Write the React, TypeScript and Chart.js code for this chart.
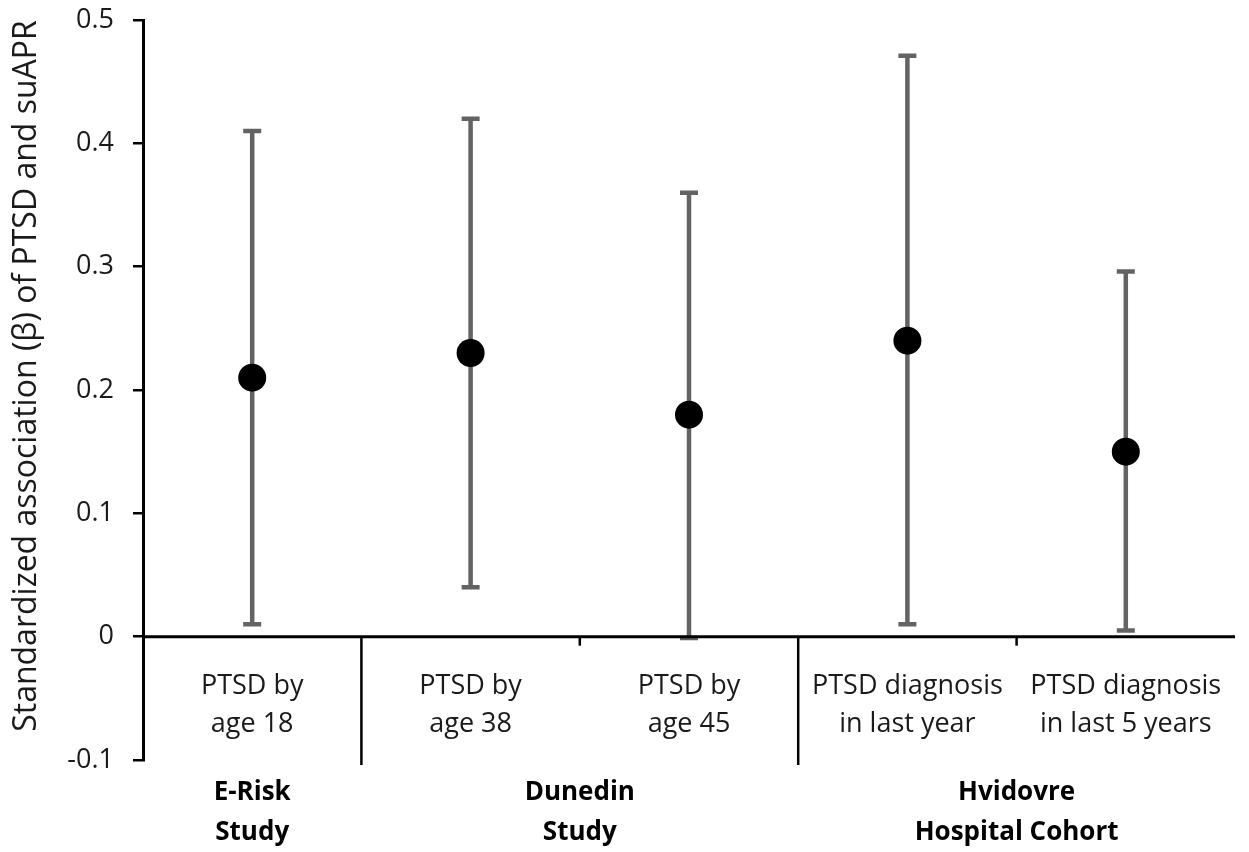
import React, { useEffect, useRef } from "react";
import { Chart, registerables } from "chart.js";

Chart.register(...registerables);

const categories: string[][] = [
  ["PTSD by", "age 18"],
  ["PTSD by", "age 38"],
  ["PTSD by", "age 45"],
  ["PTSD diagnosis", "in last year"],
  ["PTSD diagnosis", "in last 5 years"],
];
const estimates = [0.21, 0.23, 0.18, 0.24, 0.15];
const lowerCI = [0.01, 0.04, -0.001, 0.01, 0.005];
const upperCI = [0.41, 0.42, 0.36, 0.471, 0.296];
const groupNames: string[][] = [
  ["E-Risk", "Study"],
  ["Dunedin", "Study"],
  ["Hvidovre", "Hospital Cohort"],
];
const groupStart = [0, 1, 3];
const groupEnd = [0, 2, 4];
const yTitle = "Standardized association (\u03B2) of PTSD and suAPR";

const FONT = "'Open Sans', 'DejaVu Sans', sans-serif";

const drawPlugin = {
  id: "forestDecor",
  beforeDatasetsDraw(chart: any) {
    const { ctx, scales } = chart;
    const x = scales.x;
    const y = scales.y;
    ctx.save();
    ctx.strokeStyle = "#636363";
    ctx.lineWidth = 4.5;
    ctx.lineCap = "butt";
    for (let i = 0; i < estimates.length; i++) {
      const px = x.getPixelForValue(i);
      const lo = y.getPixelForValue(lowerCI[i]);
      const hi = y.getPixelForValue(upperCI[i]);
      ctx.beginPath();
      ctx.moveTo(px, lo);
      ctx.lineTo(px, hi);
      ctx.stroke();
      ctx.beginPath();
      ctx.moveTo(px - 9, lo);
      ctx.lineTo(px + 9, lo);
      ctx.moveTo(px - 9, hi);
      ctx.lineTo(px + 9, hi);
      ctx.stroke();
    }
    ctx.restore();
  },
  afterDraw(chart: any) {
    const { ctx, scales, chartArea } = chart;
    const x = scales.x;
    const y = scales.y;
    const y0 = y.getPixelForValue(0);
    ctx.save();
    // x axis line at zero
    ctx.strokeStyle = "#000";
    ctx.lineWidth = 3;
    ctx.beginPath();
    ctx.moveTo(chartArea.left, y0);
    ctx.lineTo(chartArea.right, y0);
    ctx.stroke();
    // separators and small ticks
    const n = categories.length;
    for (let i = 0; i < n - 1; i++) {
      const bx = (x.getPixelForValue(i) + x.getPixelForValue(i + 1)) / 2;
      const isGroupBoundary = groupEnd.includes(i);
      ctx.lineWidth = 2.5;
      ctx.beginPath();
      ctx.moveTo(bx, y0);
      ctx.lineTo(bx, isGroupBoundary ? chartArea.bottom + 5 : y0 + 9);
      ctx.stroke();
    }
    // category labels
    ctx.fillStyle = "#1a1a1a";
    ctx.textAlign = "center";
    ctx.textBaseline = "middle";
    ctx.font = `27px ${FONT}`;
    for (let i = 0; i < n; i++) {
      const px = x.getPixelForValue(i);
      categories[i].forEach((line, j) => {
        ctx.fillText(line, px, y0 + 50 + j * 38);
      });
    }
    // group labels
    ctx.font = `bold 26px ${FONT}`;
    ctx.fillStyle = "#000";
    for (let g = 0; g < groupNames.length; g++) {
      const gx = (x.getPixelForValue(groupStart[g]) + x.getPixelForValue(groupEnd[g])) / 2;
      groupNames[g].forEach((line, j) => {
        ctx.fillText(line, gx, chartArea.bottom + 33 + j * 40);
      });
    }
    // y title
    ctx.font = `32px ${FONT}`;
    ctx.fillStyle = "#1a1a1a";
    ctx.translate(27, 376);
    ctx.rotate(-Math.PI / 2);
    ctx.fillText(yTitle, 0, 0);
    ctx.restore();
  },
};

export default function App() {
  const canvasRef = useRef<HTMLCanvasElement | null>(null);

  useEffect(() => {
    const canvas = canvasRef.current;
    if (!canvas) return;
    const chart = new Chart(canvas, {
      type: "line",
      data: {
        labels: categories.map((c) => c.join(" ")),
        datasets: [
          {
            data: estimates,
            showLine: false,
            pointRadius: 14,
            pointHoverRadius: 14,
            pointBackgroundColor: "#000",
            pointBorderColor: "#000",
            pointBorderWidth: 0,
          },
        ],
      },
      options: {
        responsive: false,
        animation: false,
        layout: { padding: { left: 0, top: 20, right: 12, bottom: 92 } },
        plugins: {
          legend: { display: false },
          tooltip: { enabled: false },
        },
        scales: {
          x: {
            type: "category",
            display: false,
            offset: true,
          },
          y: {
            min: -0.1,
            max: 0.5,
            afterFit: (scale: any) => {
              scale.width = 143;
              scale.paddingTop = 0;
              scale.paddingBottom = 0;
            },
            ticks: {
              stepSize: 0.1,
              padding: 19,
              color: "#1a1a1a",
              font: { family: FONT, size: 27 },
              callback: (v: any) => String(Number(Number(v).toFixed(1))),
            },
            grid: {
              drawOnChartArea: false,
              drawTicks: true,
              tickLength: 10,
              color: "#000",
              lineWidth: 2.5,
            },
            border: { display: true, color: "#000", width: 3 },
          },
        },
      },
      plugins: [drawPlugin],
    });
    return () => chart.destroy();
  }, []);

  return (
    <div style={{ position: "absolute", left: 0, top: 0, width: 1249, height: 852, background: "#fff" }}>
      <canvas ref={canvasRef} width={1249} height={852} />
    </div>
  );
}
